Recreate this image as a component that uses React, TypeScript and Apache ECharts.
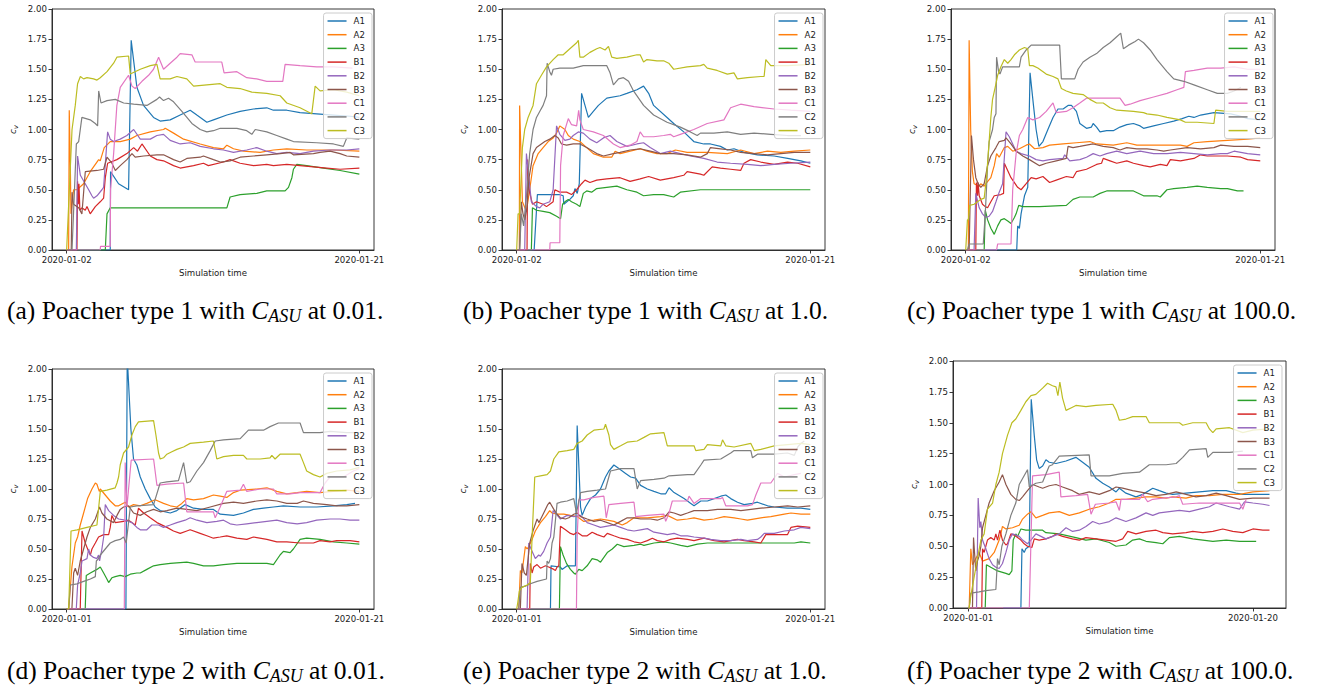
import React, { useEffect, useRef } from "react";
import * as echarts from "echarts";

type Pts = [number, number][];

// ---------- shared metadata ----------
const SERIES_NAMES = ["A1", "A2", "A3", "B1", "B2", "B3", "C1", "C2", "C3"];
const SERIES_COLORS = ["#1f77b4", "#ff7f0e", "#2ca02c", "#d62728", "#9467bd", "#8c564b", "#e377c2", "#7f7f7f", "#bcbd22"];
const X_TICK_VALUES = [[0, 19], [0, 19], [0, 19], [0, 20], [0, 20], [0, 19]];
const X_TICK_LABELS = [
  ["2020-01-02", "2020-01-21"],
  ["2020-01-02", "2020-01-21"],
  ["2020-01-02", "2020-01-21"],
  ["2020-01-01", "2020-01-21"],
  ["2020-01-01", "2020-01-21"],
  ["2020-01-01", "2020-01-20"],
];
const X_RANGES = [[-0.95, 19.95], [-0.95, 19.95], [-0.95, 19.95], [-1, 21], [-1, 21], [-1.01, 21.21]];
const Y_MIN = 0;
const Y_MAX = 2;
const Y_STEP = 0.25;
const X_AXIS_NAME = "Simulation time";
const CAPTION_LETTERS = ["a", "b", "c", "d", "e", "f"];
const CAPTION_TYPES = ["1", "1", "1", "2", "2", "2"];
const CAPTION_CASU = ["0.01", "1.0", "100.0", "0.01", "1.0", "100.0"];

// ---------- panel (a) ----------
const a_A1: Pts = [[0,0],[2.83,0],[2.85,0.65],[3.37,0.55],[4.02,0.5],[4.19,1.74],[4.56,1.35],[4.99,1.2],[5.64,1.1],[6.07,1.07],[6.72,1.08],[7.37,1.12],[8.02,1.16],[8.45,1.12],[9.1,1.06],[9.53,1.08],[10.4,1.12],[11.26,1.15],[12.13,1.17],[12.99,1.18],[13.42,1.16],[14.29,1.16],[15.15,1.14],[16.23,1.13],[17.32,1.12],[18.4,1.11],[19,1.1]];
const a_A2: Pts = [[0,0],[0.13,0],[0.17,1.16],[0.24,0.7],[0.28,0.3],[0.45,0.5],[0.67,0.5],[1.1,0.55],[1.53,0.65],[2.08,0.75],[2.18,0.74],[2.44,0.85],[2.83,0.9],[3.48,0.9],[4.13,0.92],[4.56,0.95],[5.43,0.98],[6.29,1.0],[6.4,1.01],[6.94,0.97],[7.59,0.92],[8.67,0.88],[9.53,0.85],[10.18,0.84],[10.4,0.87],[10.83,0.84],[11.48,0.82],[12.56,0.81],[13.42,0.83],[14.29,0.84],[15.58,0.83],[17.32,0.83],[19,0.82]];
const a_A3: Pts = [[0,0],[2.51,0],[2.62,0.3],[2.83,0.35],[3.5,0.35],[5.0,0.35],[7.0,0.35],[10.4,0.35],[10.61,0.44],[11.26,0.46],[12.34,0.47],[12.99,0.49],[14.18,0.49],[14.4,0.52],[14.62,0.6],[14.72,0.67],[14.94,0.71],[15.58,0.7],[16.67,0.68],[17.75,0.66],[19,0.63]];
const a_B1: Pts = [[0,0],[0.67,0],[0.71,0.57],[0.76,0.38],[0.8,0.55],[0.86,0.33],[0.99,0.35],[1.21,0.33],[1.32,0.36],[1.53,0.3],[1.86,0.36],[2.18,0.4],[2.4,0.43],[2.51,0.6],[2.66,0.72],[3.26,0.75],[3.91,0.8],[4.35,0.85],[4.6,0.82],[4.89,0.88],[5.43,0.78],[5.86,0.75],[6.29,0.74],[6.94,0.7],[7.37,0.68],[8.24,0.7],[8.88,0.72],[9.2,0.7],[10.18,0.73],[10.61,0.75],[11.26,0.72],[12.13,0.7],[12.99,0.71],[13.42,0.7],[14.29,0.71],[15.15,0.7],[16.02,0.69],[16.88,0.68],[17.75,0.67],[19,0.68]];
const a_B2: Pts = [[0,0],[0.63,0],[0.71,0.78],[0.89,0.62],[1.43,0.5],[1.64,0.45],[1.75,0.43],[1.97,0.45],[2.29,0.5],[2.4,0.52],[2.66,0.98],[2.83,0.92],[3.05,0.9],[3.48,0.92],[3.91,0.95],[4.35,1.0],[4.78,0.92],[5.43,0.92],[5.86,0.95],[6.29,0.96],[6.72,0.91],[7.37,0.88],[8.02,0.89],[8.67,0.86],[9.53,0.84],[10.18,0.83],[10.83,0.81],[11.69,0.83],[12.34,0.85],[12.99,0.82],[13.64,0.8],[14.29,0.81],[15.15,0.8],[16.02,0.82],[17.1,0.83],[18.18,0.83],[19,0.84]];
const a_B3: Pts = [[0,0],[0.3,0],[0.35,0.48],[0.45,0.38],[0.78,0.35],[0.99,0.3],[1.21,0.65],[1.97,0.66],[2.4,0.67],[2.62,0.77],[2.94,0.72],[3.16,0.66],[3.48,0.7],[3.91,0.75],[4.24,0.8],[4.45,0.77],[4.99,0.78],[5.86,0.79],[6.29,0.79],[6.94,0.75],[7.37,0.73],[7.8,0.76],[8.67,0.77],[8.88,0.78],[9.53,0.75],[9.97,0.73],[10.61,0.74],[11.26,0.77],[12.13,0.78],[12.99,0.79],[13.86,0.8],[14.51,0.81],[14.72,0.79],[16.02,0.8],[16.45,0.81],[17.1,0.82],[17.75,0.8],[18.18,0.78],[19,0.77]];
const a_C1: Pts = [[0,0],[2.18,0],[2.2,0.03],[2.83,0.03],[2.85,0.5],[3.05,0.8],[3.26,1.2],[3.48,1.35],[4.02,1.45],[4.24,1.36],[4.45,1.34],[4.89,1.4],[5.32,1.45],[5.64,1.5],[5.97,1.6],[6.29,1.5],[6.72,1.55],[7.16,1.6],[7.37,1.63],[8.13,1.62],[8.34,1.56],[10.07,1.56],[10.22,1.47],[11.05,1.48],[11.69,1.43],[12.34,1.42],[12.99,1.4],[14.03,1.4],[14.18,1.54],[15.15,1.53],[16.23,1.52],[17.32,1.52],[18.55,1.51]];
const a_C2: Pts = [[0,0],[0.35,0],[0.63,0.88],[0.78,0.9],[0.99,1.1],[1.53,1.08],[1.86,1.05],[2.01,1.03],[2.08,1.32],[2.23,1.22],[2.62,1.24],[3.16,1.25],[3.7,1.22],[4.35,1.21],[5.21,1.2],[5.86,1.25],[6.03,1.27],[6.29,1.24],[6.61,1.26],[6.94,1.23],[7.48,1.15],[8.13,1.05],[8.67,1.0],[9.1,0.98],[9.53,0.99],[9.97,1.01],[11.05,1.01],[11.69,0.99],[12.02,0.96],[12.24,1.0],[12.99,0.98],[13.64,0.95],[14.29,0.92],[14.72,0.9],[16.23,0.89],[17.32,0.88],[17.96,0.86],[18.18,0.93],[19,0.92]];
const a_C3: Pts = [[0,0],[0.02,0],[0.35,1.0],[0.56,1.2],[0.71,1.38],[0.89,1.44],[1.1,1.42],[1.32,1.43],[1.75,1.42],[1.97,1.41],[2.18,1.43],[2.62,1.48],[3.05,1.55],[3.26,1.6],[4.02,1.61],[4.13,1.46],[4.78,1.5],[5.43,1.53],[5.86,1.54],[6.07,1.42],[6.72,1.42],[7.16,1.44],[7.8,1.42],[8.24,1.36],[9.1,1.37],[9.97,1.38],[10.4,1.35],[11.26,1.34],[12.02,1.31],[12.99,1.3],[13.86,1.28],[14.29,1.22],[15.15,1.18],[15.91,1.13],[16.13,1.36],[16.45,1.32],[17.32,1.33],[18.18,1.31],[19,1.28]];

// ---------- panel (b) ----------
const b_A1: Pts = [[0,0],[1.13,0],[1.34,0.46],[2.79,0.46],[3.01,0.45],[3.05,0.38],[3.44,0.42],[3.66,0.45],[3.77,0.51],[3.92,0.47],[4.05,0.55],[4.2,1.3],[4.53,1.15],[4.64,1.1],[4.96,1.15],[5.29,1.2],[5.83,1.26],[6.69,1.28],[7.13,1.3],[7.78,1.33],[8.21,1.36],[8.54,1.3],[8.86,1.2],[9.73,1.1],[10.16,1.05],[10.81,0.98],[11.46,0.9],[12.11,0.88],[12.54,0.88],[13.19,0.86],[13.63,0.83],[14.06,0.84],[14.71,0.81],[15.58,0.79],[16.66,0.78],[17.53,0.76],[18.39,0.74],[19,0.72]];
const b_A2: Pts = [[0,0],[0.17,0],[0.19,1.2],[0.37,0.4],[0.63,0.32],[0.84,0.5],[1.06,0.7],[1.39,0.8],[1.71,0.85],[2.04,0.9],[2.36,0.93],[2.58,0.97],[2.79,1.03],[3.12,1.0],[3.34,0.95],[3.66,0.92],[4.09,0.9],[4.53,0.85],[4.96,0.8],[5.61,0.77],[6.15,0.77],[6.37,0.82],[6.69,0.8],[7.34,0.82],[7.99,0.84],[8.43,0.82],[9.08,0.8],[9.73,0.8],[10.27,0.83],[11.03,0.81],[12.33,0.81],[13.63,0.8],[14.49,0.83],[15.36,0.8],[16.23,0.82],[17.09,0.81],[17.96,0.82],[19,0.83]];
const b_A3: Pts = [[0,0],[0.95,0],[1.02,0.35],[1.28,0.33],[1.71,0.32],[2.14,0.31],[2.58,0.28],[2.84,0.26],[2.97,0.38],[3.12,0.4],[3.34,0.42],[3.55,0.4],[3.88,0.38],[4.09,0.36],[4.31,0.47],[4.53,0.49],[4.85,0.48],[5.18,0.51],[5.83,0.52],[6.48,0.53],[7.13,0.5],[7.78,0.48],[8.21,0.45],[8.86,0.46],[9.51,0.46],[10.16,0.44],[10.59,0.48],[11.89,0.5],[14.49,0.5],[19,0.5]];
const b_B1: Pts = [[0,0],[0.67,0],[0.71,0.75],[0.8,0.5],[1.02,0.38],[1.28,0.4],[1.71,0.38],[1.93,0.36],[2.14,0.38],[2.36,0.4],[2.4,0.45],[2.47,0.5],[2.79,0.48],[3.23,0.48],[3.55,0.46],[3.88,0.5],[4.2,0.55],[4.42,0.58],[4.74,0.56],[5.18,0.58],[5.83,0.59],[6.69,0.6],[7.34,0.57],[7.99,0.59],[8.54,0.61],[9.29,0.58],[10.16,0.6],[10.81,0.62],[11.03,0.65],[11.89,0.63],[12.11,0.62],[12.65,0.69],[13.19,0.68],[13.84,0.67],[14.49,0.66],[14.71,0.72],[15.14,0.75],[15.79,0.73],[16.66,0.71],[17.53,0.73],[18.18,0.72],[19,0.69]];
const b_B2: Pts = [[0,0],[0.52,0],[0.63,0.8],[0.95,0.4],[1.28,0.36],[1.49,0.35],[1.71,0.38],[2.14,0.4],[2.36,0.5],[2.58,1.03],[2.79,0.96],[3.12,0.91],[3.44,0.92],[3.66,0.95],[3.99,0.98],[4.31,0.97],[4.74,0.92],[5.18,0.89],[5.61,0.93],[6.04,0.95],[6.48,0.9],[7.13,0.86],[7.78,0.88],[8.21,0.89],[8.64,0.85],[9.29,0.8],[9.94,0.82],[10.59,0.8],[11.24,0.78],[12.11,0.76],[12.97,0.73],[13.84,0.72],[14.93,0.71],[15.79,0.7],[16.66,0.71],[17.74,0.72],[19,0.73]];
const b_B3: Pts = [[0,0],[0.19,0],[0.3,0.4],[0.41,0.3],[0.52,0.25],[0.67,0.35],[0.8,0.6],[1.06,0.8],[1.28,0.85],[1.82,0.9],[2.14,0.92],[2.47,0.95],[2.69,0.93],[2.9,0.88],[3.23,0.87],[3.66,0.88],[4.09,0.88],[4.53,0.85],[5.18,0.8],[5.61,0.78],[6.26,0.8],[6.69,0.81],[7.34,0.83],[7.99,0.84],[8.64,0.82],[9.29,0.8],[10.16,0.8],[11.03,0.79],[11.89,0.77],[12.33,0.8],[12.54,0.85],[13.19,0.84],[13.84,0.83],[14.49,0.81],[15.36,0.8],[16.23,0.79],[17.09,0.8],[17.96,0.81],[19,0.81]];
const b_C1: Pts = [[0,0],[2.14,0],[2.16,0.06],[2.79,0.06],[2.84,0.7],[3.01,0.95],[3.34,1.09],[3.55,1.04],[3.88,1.03],[4.01,1.16],[4.09,1.08],[4.31,1.0],[4.96,0.98],[5.61,0.95],[6.26,0.88],[6.69,0.85],[7.34,0.87],[7.78,0.9],[7.99,0.98],[8.21,0.94],[8.86,0.94],[9.51,0.95],[9.94,0.96],[10.16,0.94],[10.59,0.96],[11.46,1.0],[12.33,1.05],[13.41,1.08],[13.84,1.18],[14.49,1.21],[15.36,1.19],[16.66,1.17],[17.74,1.16],[19,1.15]];
const b_C2: Pts = [[0,0],[0.19,0],[0.3,0.3],[0.45,0.2],[0.67,0.5],[0.84,0.8],[1.06,1.0],[1.28,1.1],[1.49,1.15],[1.71,1.2],[1.93,1.28],[1.97,1.55],[2.14,1.48],[2.25,1.45],[2.36,1.5],[2.79,1.51],[3.66,1.51],[4.31,1.53],[5.83,1.53],[6.04,1.47],[6.26,1.37],[6.59,1.42],[6.91,1.43],[7.24,1.4],[7.56,1.32],[8.21,1.2],[8.86,1.12],[9.73,1.06],[10.59,1.02],[11.24,0.98],[11.68,0.95],[11.89,0.97],[12.76,0.97],[13.63,0.98],[14.49,0.96],[15.36,0.97],[16.44,0.96],[17.53,0.95],[18.39,0.95]];
const b_C3: Pts = [[0,0],[0.09,0.3],[0.19,0.3],[0.37,0.85],[0.52,1.0],[0.74,1.1],[1.06,1.2],[1.28,1.38],[1.6,1.45],[1.93,1.52],[2.36,1.58],[2.69,1.62],[3.01,1.62],[3.44,1.67],[3.88,1.72],[3.99,1.74],[4.09,1.6],[4.31,1.6],[4.74,1.64],[5.18,1.67],[5.39,1.68],[5.72,1.66],[5.94,1.69],[6.15,1.6],[6.48,1.59],[7.13,1.6],[7.78,1.62],[7.99,1.62],[8.21,1.56],[8.43,1.58],[9.08,1.57],[9.51,1.57],[9.84,1.55],[10.16,1.5],[11.03,1.52],[11.89,1.53],[12.11,1.54],[12.33,1.51],[12.97,1.49],[13.63,1.46],[14.06,1.47],[14.28,1.42],[14.93,1.43],[15.79,1.44],[16.01,1.44],[16.12,1.58],[16.44,1.53],[17.53,1.53],[19,1.54]];

// ---------- panel (c) ----------
const c_A1: Pts = [[0,0],[3.29,0],[3.35,0.2],[3.46,0.18],[3.57,0.3],[3.79,0.45],[4.0,0.52],[4.15,1.47],[4.37,1.2],[4.54,1.0],[4.72,0.86],[4.98,0.9],[5.3,1.0],[5.63,1.1],[5.95,1.17],[6.28,1.17],[6.6,1.2],[6.82,1.2],[7.14,1.15],[7.36,1.05],[7.79,1.01],[8.11,1.02],[8.22,1.05],[8.44,1.02],[8.66,0.98],[9.09,0.99],[9.52,0.99],[9.95,1.02],[10.39,1.04],[10.82,1.05],[11.25,1.03],[11.47,1.01],[12.12,1.03],[12.77,1.05],[13.42,1.07],[13.96,1.09],[14.39,1.11],[14.72,1.1],[15.15,1.12],[16.01,1.14],[17.1,1.13],[17.75,1.11],[18.18,1.09],[19,1.08]];
const c_A2: Pts = [[0,0],[0.17,0],[0.22,1.74],[0.32,1.0],[0.43,0.65],[0.54,0.55],[0.87,0.53],[0.97,0.55],[1.19,0.53],[1.3,0.55],[1.62,0.6],[1.84,0.7],[1.99,0.8],[2.16,0.77],[2.49,0.85],[2.71,0.86],[3.03,0.82],[3.46,0.84],[3.9,0.87],[4.11,0.88],[4.44,0.84],[4.98,0.85],[5.41,0.87],[6.28,0.88],[7.14,0.89],[8.01,0.9],[8.44,0.88],[9.52,0.87],[10.39,0.89],[11.04,0.87],[12.77,0.87],[13.85,0.87],[14.28,0.86],[14.72,0.89],[15.58,0.9],[16.88,0.91],[18.18,0.92],[19,0.93]];
const c_A3: Pts = [[0,0],[1.19,0],[1.26,0.33],[1.41,0.25],[1.62,0.18],[1.84,0.13],[2.06,0.2],[2.27,0.25],[2.49,0.26],[2.71,0.24],[2.92,0.22],[3.14,0.27],[3.25,0.3],[3.42,0.37],[3.68,0.36],[4.76,0.36],[6.49,0.37],[6.92,0.42],[7.36,0.44],[8.22,0.44],[8.66,0.47],[9.09,0.49],[10.82,0.49],[11.47,0.45],[12.34,0.45],[12.55,0.44],[12.98,0.5],[13.42,0.51],[14.28,0.52],[14.93,0.53],[15.58,0.52],[16.45,0.51],[16.88,0.51],[17.53,0.49],[17.92,0.49]];
const c_B1: Pts = [[0,0],[0.65,0],[0.69,0.56],[0.76,0.45],[0.8,0.56],[0.87,0.45],[1.08,0.38],[1.26,0.36],[1.41,0.35],[1.62,0.4],[1.84,0.45],[2.27,0.46],[2.44,0.47],[2.49,0.72],[2.92,0.6],[3.35,0.52],[3.57,0.5],[3.9,0.55],[4.22,0.6],[4.54,0.59],[4.98,0.61],[5.41,0.56],[5.84,0.58],[6.49,0.61],[6.92,0.6],[7.14,0.65],[7.79,0.67],[8.44,0.71],[8.76,0.72],[8.87,0.76],[9.31,0.74],[9.74,0.72],[10.39,0.74],[10.82,0.72],[11.47,0.7],[11.9,0.69],[12.55,0.71],[12.98,0.7],[13.2,0.75],[13.85,0.74],[14.72,0.76],[15.15,0.79],[15.58,0.78],[16.88,0.78],[17.75,0.77],[18.18,0.75],[19,0.74]];
const c_B2: Pts = [[0,0],[0.54,0],[0.65,0.47],[0.87,0.35],[1.08,0.3],[1.3,0.27],[1.51,0.28],[1.73,0.32],[1.95,0.4],[2.16,0.48],[2.38,0.55],[2.6,0.98],[2.81,0.94],[3.03,0.88],[3.25,0.82],[3.57,0.8],[4.11,0.78],[4.54,0.75],[4.98,0.74],[5.41,0.75],[6.28,0.76],[6.38,0.79],[6.71,0.74],[7.36,0.75],[7.79,0.77],[8.22,0.8],[8.66,0.78],[9.09,0.8],[9.74,0.82],[10.39,0.8],[11.25,0.82],[12.12,0.8],[12.98,0.8],[13.85,0.81],[14.72,0.8],[15.58,0.79],[16.45,0.8],[16.88,0.8],[17.31,0.82],[18.18,0.8],[19,0.79]];
const c_B3: Pts = [[0,0],[0.22,0],[0.37,0.95],[0.5,0.75],[0.65,0.6],[0.8,0.55],[0.97,0.52],[1.19,0.55],[1.41,0.7],[1.62,0.78],[1.95,0.85],[2.16,0.9],[2.49,0.91],[2.6,0.93],[2.92,0.88],[3.25,0.82],[3.68,0.78],[4.11,0.75],[4.76,0.7],[5.19,0.72],[5.84,0.74],[6.49,0.76],[6.6,0.86],[6.92,0.85],[7.36,0.86],[8.22,0.88],[8.87,0.86],[9.52,0.85],[9.95,0.83],[10.39,0.85],[11.04,0.84],[11.69,0.84],[12.34,0.83],[12.77,0.82],[13.2,0.83],[14.28,0.85],[15.15,0.84],[16.01,0.85],[16.45,0.87],[17.31,0.86],[18.18,0.86],[19,0.85]];
const c_C1: Pts = [[0,0],[1.99,0],[2.06,0.05],[2.92,0.05],[3.03,0.5],[3.25,0.8],[3.46,0.95],[3.68,1.0],[4.0,1.1],[4.33,1.08],[4.76,1.1],[5.19,1.15],[5.63,1.22],[5.84,1.14],[6.49,1.15],[6.92,1.18],[7.36,1.22],[7.79,1.26],[9.95,1.26],[10.28,1.2],[10.6,1.21],[11.25,1.24],[12.12,1.27],[12.98,1.3],[13.63,1.33],[14.07,1.35],[14.17,1.48],[14.72,1.49],[15.58,1.51],[16.45,1.51],[17.31,1.52],[18.18,1.5],[19,1.5]];
const c_C2: Pts = [[0,0],[0.11,0],[0.22,0.05],[1.13,0.05],[1.26,0.3],[1.41,0.7],[1.51,0.9],[1.73,1.0],[1.84,1.1],[1.95,1.13],[1.99,1.6],[2.12,1.48],[2.21,1.46],[2.38,1.52],[3.46,1.52],[3.57,1.6],[3.9,1.66],[4.22,1.7],[6.06,1.7],[6.17,1.42],[7.03,1.42],[7.25,1.5],[7.57,1.56],[8.01,1.6],[8.44,1.63],[8.87,1.68],[9.31,1.72],[9.74,1.77],[10.0,1.8],[10.17,1.67],[10.5,1.7],[10.93,1.73],[11.14,1.75],[11.47,1.72],[11.9,1.66],[12.34,1.58],[12.98,1.48],[13.42,1.42],[14.07,1.4],[14.72,1.37],[15.58,1.33],[16.23,1.3],[16.88,1.3],[17.31,1.32],[17.75,1.35]];
const c_C3: Pts = [[0,0],[0.11,0.25],[0.17,0.25],[0.26,0.37],[0.54,0.38],[0.76,0.4],[0.97,0.42],[1.19,0.43],[1.34,0.6],[1.51,0.9],[1.62,1.1],[1.73,1.25],[1.9,1.35],[2.06,1.45],[2.27,1.52],[2.49,1.58],[2.71,1.55],[2.92,1.58],[3.14,1.62],[3.46,1.66],[3.79,1.68],[4.0,1.67],[4.11,1.53],[4.33,1.53],[4.65,1.51],[5.19,1.46],[5.63,1.44],[5.95,1.42],[6.17,1.34],[6.49,1.32],[6.92,1.3],[7.57,1.29],[8.01,1.25],[8.44,1.22],[8.87,1.22],[9.31,1.18],[9.74,1.16],[10.82,1.15],[11.47,1.14],[11.69,1.13],[12.34,1.12],[12.98,1.1],[13.85,1.08],[14.17,1.06],[14.93,1.06],[16.01,1.05],[16.12,1.16],[16.88,1.15],[18.18,1.15],[19,1.15]];

// ---------- panel (d) ----------
const d_A1: Pts = [[0,0],[4.05,0],[4.14,2.1],[4.39,1.5],[4.57,1.25],[4.8,1.2],[5.03,1.1],[5.37,1.0],[5.71,0.92],[6.05,0.85],[6.39,0.82],[7.08,0.8],[7.53,0.82],[8.1,0.87],[8.67,0.84],[9.35,0.83],[10.03,0.83],[10.49,0.79],[11.4,0.78],[12.08,0.8],[12.76,0.83],[13.45,0.84],[14.13,0.85],[14.81,0.86],[15.95,0.85],[17.09,0.85],[18.23,0.86],[19.14,0.87],[19.7,0.88]];
const d_A2: Pts = [[0,0],[0.14,0],[0.36,0.35],[0.59,0.55],[0.75,0.6],[0.93,0.7],[1.16,0.8],[1.43,0.92],[1.73,1.0],[1.96,1.05],[2.07,1.04],[2.23,0.98],[2.3,1.0],[2.64,0.95],[2.98,0.9],[3.32,0.86],[3.55,0.86],[4.0,0.89],[4.23,0.85],[4.57,0.87],[5.03,0.86],[5.48,0.88],[6.05,0.91],[6.62,0.88],[7.08,0.86],[7.53,0.85],[7.87,0.88],[8.21,0.92],[8.67,0.91],[9.35,0.92],[10.03,0.95],[10.49,0.94],[10.94,0.93],[11.4,0.97],[11.86,0.99],[12.99,1.0],[13.68,1.01],[14.36,0.98],[15.04,0.96],[15.75,0.97],[16.4,0.98],[17.31,0.97],[18.23,0.98],[19.14,0.99],[20,0.98]];
const d_A3: Pts = [[0,0],[1.27,0],[1.34,0.28],[1.62,0.3],[2.07,0.33],[2.3,0.35],[2.53,0.3],[2.75,0.25],[2.87,0.22],[3.09,0.26],[3.32,0.27],[3.66,0.28],[4.0,0.27],[4.35,0.29],[4.8,0.3],[5.03,0.3],[5.48,0.33],[5.94,0.36],[6.39,0.37],[7.08,0.38],[8.21,0.39],[8.67,0.38],[9.35,0.36],[10.03,0.36],[10.72,0.37],[11.63,0.38],[12.76,0.38],[13.68,0.38],[14.13,0.37],[14.58,0.45],[14.81,0.48],[15.27,0.47],[15.49,0.5],[15.95,0.58],[16.4,0.59],[17.31,0.58],[18.23,0.56],[19.14,0.55],[20,0.54]];
const d_B1: Pts = [[0,0],[0.93,0],[1.05,0.65],[1.27,0.55],[1.5,0.48],[1.62,0.45],[1.73,0.5],[1.96,0.55],[2.18,0.6],[2.53,0.62],[2.87,0.62],[2.98,0.68],[3.09,0.78],[3.32,0.72],[3.89,0.73],[4.23,0.74],[4.69,0.7],[4.91,0.84],[5.26,0.8],[5.71,0.76],[6.17,0.72],[6.85,0.68],[7.3,0.65],[7.76,0.63],[8.21,0.65],[8.44,0.66],[9.12,0.63],[9.58,0.61],[10.03,0.59],[10.49,0.6],[10.94,0.61],[11.63,0.59],[12.31,0.58],[12.76,0.6],[13.68,0.58],[14.36,0.56],[15.04,0.56],[15.95,0.55],[16.86,0.55],[17.31,0.57],[18.0,0.56],[18.45,0.57],[19.36,0.57],[20,0.56]];
const d_B2: Pts = [[0,0],[0.66,0],[0.75,0.2],[0.93,0.3],[1.05,0.4],[1.39,0.42],[1.5,0.5],[1.62,0.45],[1.84,0.43],[2.07,0.42],[2.18,0.45],[2.25,0.4],[2.41,0.5],[2.53,0.6],[2.64,0.87],[2.87,0.82],[3.21,0.78],[3.55,0.75],[4.0,0.74],[4.46,0.72],[4.8,0.68],[5.03,0.66],[5.48,0.66],[5.82,0.7],[6.28,0.7],[6.62,0.68],[7.08,0.7],[7.53,0.72],[8.1,0.74],[8.44,0.76],[8.9,0.74],[9.58,0.72],[10.26,0.73],[10.72,0.74],[11.17,0.71],[11.63,0.7],[12.31,0.71],[12.99,0.72],[13.68,0.73],[14.36,0.74],[15.04,0.72],[15.75,0.71],[16.4,0.72],[17.09,0.74],[18.0,0.75],[18.68,0.75],[19.36,0.74],[20,0.74]];
const d_B3: Pts = [[0,0],[0.36,0],[0.48,0.3],[0.59,0.34],[0.75,0.28],[0.93,0.4],[1.16,0.5],[1.39,0.6],[1.62,0.68],[1.96,0.75],[2.25,0.85],[2.41,0.8],[2.75,0.75],[3.21,0.72],[3.44,0.78],[3.66,0.83],[3.89,0.85],[4.23,0.86],[4.57,0.8],[5.03,0.78],[5.48,0.81],[5.94,0.83],[6.39,0.81],[6.85,0.82],[7.53,0.84],[8.21,0.83],[8.9,0.82],[9.81,0.85],[10.72,0.88],[11.4,0.89],[12.08,0.88],[12.99,0.9],[13.68,0.91],[14.36,0.9],[15.04,0.88],[15.75,0.88],[16.18,0.9],[16.86,0.88],[17.77,0.87],[18.45,0.86],[19.14,0.86],[20,0.87]];
const d_C1: Pts = [[0,0],[3.94,0],[4.0,1.22],[4.12,0.85],[4.41,1.24],[5.94,1.25],[6.17,1.03],[6.85,1.04],[7.99,1.05],[8.21,0.81],[8.9,0.81],[10.03,0.81],[10.15,0.76],[10.49,0.85],[10.94,0.98],[11.86,0.99],[12.08,1.04],[12.31,0.98],[13.22,1.0],[14.13,1.0],[14.36,0.96],[15.27,0.96],[15.95,0.97],[17.31,0.97],[17.66,1.05],[18.0,1.1],[18.91,1.1],[19.59,1.15],[20,1.17]];
const d_C2: Pts = [[0,0],[0.14,0],[0.25,0.2],[0.71,0.21],[1.16,0.23],[1.62,0.25],[1.96,0.27],[2.03,0.4],[2.18,0.42],[2.3,0.45],[2.64,0.5],[2.98,0.55],[3.32,0.57],[3.66,0.58],[3.89,0.6],[4.07,0.55],[4.35,0.85],[4.8,0.86],[5.94,0.87],[6.39,1.05],[6.85,1.06],[7.64,1.07],[7.99,1.22],[8.21,1.05],[8.44,1.06],[8.9,1.15],[9.35,1.22],[9.81,1.32],[10.15,1.4],[10.72,1.41],[11.86,1.42],[12.42,1.49],[13.45,1.49],[13.9,1.52],[14.47,1.55],[15.95,1.55],[16.18,1.47],[17.31,1.47],[18.0,1.48],[19.14,1.47],[20,1.47]];
const d_C3: Pts = [[0,0],[0.14,0],[0.3,0.65],[0.71,0.66],[1.39,0.68],[2.07,0.7],[2.3,0.98],[2.75,0.99],[3.32,1.01],[3.44,1.05],[3.55,1.1],[3.66,1.2],[3.89,1.3],[4.23,1.35],[4.46,1.45],[4.69,1.52],[4.91,1.56],[5.94,1.57],[6.1,1.45],[6.28,1.3],[6.39,1.25],[6.62,1.26],[6.85,1.29],[7.19,1.31],[7.53,1.33],[7.99,1.35],[8.44,1.38],[9.35,1.39],[10.03,1.4],[10.26,1.25],[10.72,1.27],[11.4,1.28],[12.08,1.28],[12.31,1.25],[13.22,1.25],[13.9,1.26],[14.02,1.28],[14.24,1.25],[14.58,1.29],[15.95,1.29],[16.18,1.22],[16.4,1.15],[16.86,1.12],[17.31,1.1],[17.77,1.13],[18.45,1.15],[19.36,1.16],[20,1.18]];

// ---------- panel (e) ----------
const e_A1: Pts = [[0,0],[2.3,0],[2.34,0.36],[2.98,0.35],[3.09,0.33],[3.44,0.36],[4.0,0.36],[4.12,1.53],[4.35,0.85],[4.46,0.78],[4.69,0.85],[5.03,0.92],[5.37,0.95],[5.71,1.0],[6.05,1.1],[6.28,1.15],[6.62,1.2],[6.96,1.17],[7.42,1.13],[7.76,1.1],[8.1,1.09],[8.44,1.03],[8.9,1.0],[9.35,0.98],[9.81,0.96],[10.15,0.96],[10.38,1.01],[10.72,0.97],[11.4,0.92],[11.86,0.88],[12.08,0.86],[12.54,0.9],[12.99,0.9],[13.45,0.92],[13.9,0.94],[14.24,0.95],[14.58,0.92],[15.04,0.89],[15.49,0.87],[16.06,0.88],[16.4,0.89],[17.09,0.86],[17.54,0.85],[18.45,0.84],[19.36,0.84],[20,0.83]];
const e_A2: Pts = [[0,0],[0.14,0],[0.25,0.32],[0.36,0.3],[0.59,0.52],[0.71,0.5],[0.82,0.52],[1.05,0.58],[1.27,0.65],[1.62,0.72],[1.96,0.77],[2.25,0.82],[2.41,0.8],[2.75,0.79],[3.21,0.79],[3.66,0.78],[4.12,0.77],[4.57,0.73],[5.26,0.74],[5.71,0.75],[6.17,0.74],[6.62,0.73],[7.19,0.7],[7.53,0.72],[7.99,0.76],[8.9,0.76],[9.81,0.77],[10.26,0.78],[10.94,0.74],[11.63,0.75],[12.08,0.76],[12.76,0.74],[13.45,0.75],[14.13,0.77],[14.81,0.76],[15.27,0.75],[15.72,0.74],[16.63,0.76],[17.31,0.77],[18.23,0.79],[18.68,0.8],[19.36,0.79],[20,0.79]];
const e_A3: Pts = [[0,0],[2.91,0],[2.98,0.52],[3.16,0.45],[3.39,0.38],[3.66,0.33],[3.89,0.3],[4.0,0.29],[4.23,0.33],[4.46,0.32],[4.8,0.36],[5.14,0.42],[5.48,0.41],[5.71,0.39],[5.94,0.43],[6.17,0.47],[6.51,0.5],[6.85,0.54],[7.3,0.52],[7.99,0.53],[8.44,0.54],[8.67,0.53],[9.35,0.55],[10.03,0.56],[10.49,0.55],[11.17,0.53],[11.63,0.52],[12.31,0.54],[12.99,0.55],[15.27,0.55],[17.54,0.55],[18.91,0.55],[19.36,0.56],[20,0.55]];
const e_B1: Pts = [[0,0],[0.89,0],[0.93,0.38],[1.05,0.3],[1.16,0.35],[1.39,0.37],[1.62,0.34],[1.96,0.36],[2.18,0.35],[2.53,0.33],[2.64,0.32],[2.75,0.35],[2.87,0.36],[2.98,0.69],[3.32,0.66],[3.66,0.63],[3.89,0.62],[4.12,0.64],[4.46,0.61],[4.8,0.61],[5.14,0.64],[5.48,0.62],[5.94,0.6],[6.17,0.63],[6.62,0.61],[7.08,0.59],[7.53,0.58],[7.99,0.56],[8.44,0.55],[8.9,0.57],[9.24,0.59],[9.58,0.57],[10.03,0.56],[10.49,0.58],[10.94,0.59],[11.63,0.58],[12.08,0.57],[12.76,0.59],[13.45,0.57],[14.13,0.56],[14.58,0.57],[15.04,0.58],[15.49,0.57],[16.18,0.56],[16.63,0.55],[16.97,0.62],[18.45,0.62],[18.68,0.68],[19.14,0.69],[20,0.68]];
const e_B2: Pts = [[0,0],[0.71,0],[0.82,0.55],[0.98,0.5],[1.27,0.42],[1.5,0.45],[1.62,0.44],[1.84,0.48],[2.07,0.55],[2.3,0.6],[2.48,0.82],[2.64,0.8],[2.98,0.75],[3.44,0.78],[3.89,0.77],[4.35,0.78],[4.8,0.72],[5.26,0.7],[5.71,0.68],[6.17,0.69],[6.62,0.7],[7.08,0.68],[7.53,0.66],[7.99,0.65],[8.44,0.66],[8.9,0.67],[9.35,0.64],[9.81,0.63],[10.26,0.62],[10.72,0.63],[11.17,0.61],[11.63,0.61],[12.08,0.6],[12.76,0.59],[13.22,0.58],[13.9,0.57],[14.58,0.57],[15.27,0.58],[15.72,0.57],[16.4,0.58],[16.63,0.6],[16.86,0.63],[17.54,0.63],[18.23,0.65],[18.91,0.66],[19.36,0.68],[20,0.67]];
const e_B3: Pts = [[0,0],[0.25,0],[0.36,0.38],[0.52,0.3],[0.66,0.28],[0.89,0.55],[1.11,0.65],[1.39,0.75],[1.52,0.72],[1.84,0.8],[2.12,0.87],[2.25,0.89],[2.53,0.83],[2.75,0.79],[2.98,0.76],[3.32,0.75],[3.55,0.76],[3.89,0.79],[4.12,0.8],[4.35,0.77],[4.8,0.75],[5.26,0.73],[5.71,0.74],[6.17,0.72],[6.62,0.7],[7.08,0.73],[7.53,0.76],[7.99,0.76],[8.44,0.75],[9.12,0.75],[9.58,0.74],[10.03,0.76],[10.38,0.81],[10.72,0.8],[11.17,0.78],[11.63,0.8],[12.08,0.82],[12.99,0.82],[13.68,0.83],[14.58,0.83],[15.27,0.82],[15.95,0.83],[16.63,0.84],[17.54,0.85],[18.45,0.86],[19.14,0.85],[20,0.86]];
const e_C1: Pts = [[0,0],[4.07,0],[4.12,0.6],[4.23,0.91],[4.57,0.91],[5.26,0.93],[5.94,0.94],[6.1,0.76],[6.28,0.87],[7.08,0.88],[7.99,0.89],[8.1,0.77],[8.9,0.78],[10.03,0.79],[10.15,0.73],[10.38,0.8],[10.6,0.9],[11.63,0.9],[11.74,0.94],[12.08,0.88],[12.54,0.92],[13.9,0.92],[14.02,0.93],[14.24,0.86],[15.72,0.86],[16.06,0.87],[16.29,0.95],[16.63,1.05],[17.31,1.05],[17.77,1.13],[18.23,1.1],[18.91,1.12],[19.36,1.13]];
const e_C2: Pts = [[0,0],[0.14,0],[0.25,0.18],[0.59,0.19],[0.93,0.21],[1.39,0.23],[2.03,0.25],[2.07,0.4],[2.18,0.38],[2.3,0.42],[2.41,0.55],[2.53,0.6],[2.75,0.88],[2.98,0.89],[3.44,0.9],[3.89,0.92],[4.07,0.8],[4.35,0.97],[4.8,0.98],[5.48,0.99],[6.05,1.0],[6.39,1.15],[7.08,1.17],[7.99,1.17],[8.21,1.0],[8.44,1.07],[9.35,1.08],[10.03,1.09],[10.38,1.11],[11.63,1.12],[12.08,1.12],[12.54,1.2],[12.76,1.24],[13.9,1.25],[14.58,1.3],[14.81,1.32],[15.95,1.32],[16.06,1.26],[16.4,1.29],[17.54,1.29],[18.45,1.3],[18.91,1.28],[19.14,1.35],[19.36,1.38],[19.59,1.4]];
const e_C3: Pts = [[0,0],[0.07,0.05],[0.18,0.15],[0.36,0.18],[0.71,0.2],[0.93,0.22],[1.05,0.6],[1.23,1.1],[1.62,1.11],[2.07,1.12],[2.3,1.15],[2.53,1.25],[2.87,1.31],[3.44,1.32],[3.89,1.33],[4.12,1.38],[4.46,1.4],[4.8,1.45],[5.26,1.49],[5.94,1.5],[6.05,1.54],[6.28,1.45],[6.39,1.37],[6.62,1.33],[7.08,1.36],[7.53,1.39],[8.21,1.4],[8.67,1.43],[9.12,1.46],[10.03,1.47],[10.26,1.36],[12.08,1.36],[12.2,1.32],[12.76,1.33],[12.99,1.37],[13.9,1.36],[14.02,1.41],[14.24,1.36],[14.81,1.35],[15.95,1.38],[16.18,1.32],[16.63,1.33],[17.54,1.36],[18.45,1.37],[19.36,1.38],[20,1.37]];

// ---------- panel (f) ----------
const f_A1: Pts = [[2.34,0],[3.52,0],[3.59,0.48],[3.74,0.45],[3.85,0.48],[4.08,0.5],[4.21,1.69],[4.41,1.4],[4.57,1.2],[4.74,1.13],[4.97,1.15],[5.19,1.2],[5.41,1.18],[5.86,1.17],[6.53,1.19],[7.19,1.22],[7.64,1.18],[8.08,1.14],[8.53,1.05],[8.98,1.01],[9.42,0.98],[9.87,0.94],[10.09,0.97],[10.53,0.93],[11.2,0.9],[11.65,0.92],[12.32,0.97],[12.76,0.95],[13.21,0.93],[13.65,0.92],[14.54,0.93],[15.43,0.94],[16.33,0.95],[17.22,0.95],[17.88,0.93],[18.33,0.92],[19.0,0.92],[20.11,0.92]];
const f_A2: Pts = [[0,0],[0.07,0],[0.18,0.48],[0.29,0.35],[0.51,0.4],[0.73,0.45],[0.96,0.38],[1.4,0.4],[1.74,0.45],[2.07,0.55],[2.18,0.6],[2.29,0.66],[2.52,0.64],[2.96,0.65],[3.41,0.67],[3.63,0.72],[3.96,0.76],[4.19,0.78],[4.52,0.73],[4.97,0.75],[5.41,0.77],[6.08,0.78],[6.75,0.75],[7.42,0.77],[8.08,0.8],[8.75,0.82],[9.42,0.85],[9.87,0.88],[10.53,0.88],[11.2,0.89],[11.87,0.9],[12.54,0.9],[13.21,0.89],[13.65,0.9],[14.54,0.89],[15.21,0.91],[16.1,0.91],[16.99,0.92],[18.11,0.92],[19.0,0.94],[20.11,0.95]];
const f_A3: Pts = [[0,0],[1.14,0],[1.22,0.35],[1.51,0.33],[1.96,0.3],[2.52,0.28],[2.74,0.27],[2.92,0.3],[3.01,0.55],[3.18,0.6],[3.3,0.58],[3.52,0.64],[3.85,0.63],[4.97,0.63],[5.19,0.61],[6.08,0.6],[7.19,0.57],[7.86,0.55],[8.53,0.56],[9.42,0.53],[9.87,0.5],[10.53,0.51],[10.98,0.55],[11.43,0.56],[11.87,0.54],[12.54,0.53],[12.99,0.52],[13.43,0.57],[14.1,0.58],[14.99,0.56],[15.66,0.55],[16.33,0.54],[17.22,0.55],[18.11,0.54],[19.22,0.54]];
const f_B1: Pts = [[0,0],[0.91,0],[0.96,0.48],[1.07,0.45],[1.29,0.55],[1.51,0.57],[1.74,0.55],[1.85,0.6],[1.96,0.55],[2.12,0.63],[2.29,0.55],[2.52,0.51],[2.63,0.52],[2.85,0.6],[3.07,0.59],[3.3,0.57],[3.52,0.55],[3.74,0.52],[3.96,0.5],[4.25,0.49],[4.41,0.56],[4.74,0.55],[5.19,0.56],[5.63,0.58],[5.86,0.6],[6.3,0.58],[6.97,0.56],[7.42,0.55],[7.86,0.57],[8.53,0.56],[9.2,0.55],[9.87,0.54],[10.31,0.56],[10.65,0.62],[11.2,0.6],[11.87,0.62],[12.54,0.63],[12.99,0.61],[13.65,0.6],[14.54,0.61],[14.99,0.62],[15.66,0.61],[16.33,0.62],[16.99,0.64],[17.66,0.62],[18.33,0.61],[19.0,0.64],[19.67,0.63],[20.11,0.63]];
const f_B2: Pts = [[0,0],[0.56,0],[0.67,0.89],[0.78,0.65],[0.85,0.7],[0.96,0.55],[1.18,0.48],[1.4,0.4],[1.63,0.35],[1.85,0.33],[2.07,0.32],[2.29,0.36],[2.52,0.45],[2.74,0.55],[2.96,0.6],[3.41,0.58],[3.63,0.55],[3.96,0.52],[4.19,0.55],[4.52,0.6],[4.86,0.58],[5.19,0.56],[5.63,0.58],[6.08,0.6],[6.53,0.65],[6.97,0.62],[7.42,0.63],[7.86,0.66],[8.31,0.7],[8.75,0.68],[9.42,0.7],[9.87,0.73],[10.53,0.7],[11.2,0.73],[11.87,0.77],[12.32,0.75],[12.76,0.77],[13.43,0.78],[14.1,0.79],[14.77,0.78],[15.43,0.8],[16.1,0.82],[16.55,0.85],[17.44,0.82],[18.11,0.8],[18.44,0.86],[19.0,0.85],[19.67,0.84],[20.11,0.83]];
const f_B3: Pts = [[0,0],[0.29,0],[0.36,0.57],[0.51,0.3],[0.62,0.38],[0.73,0.42],[0.85,0.5],[0.96,0.65],[1.18,0.75],[1.4,0.85],[1.74,0.95],[2.07,1.02],[2.29,1.08],[2.52,1.0],[2.85,0.92],[3.18,0.88],[3.41,0.87],[3.63,0.9],[3.96,0.95],[4.3,1.0],[4.74,0.98],[4.97,0.97],[5.41,0.99],[5.86,1.0],[6.3,0.98],[6.97,0.95],[7.42,0.92],[8.08,0.94],[8.75,0.92],[9.42,0.95],[9.87,0.98],[10.31,0.97],[10.98,0.95],[11.87,0.93],[12.54,0.91],[13.21,0.92],[13.88,0.94],[14.54,0.92],[15.21,0.9],[15.88,0.91],[16.55,0.93],[17.22,0.91],[18.11,0.88],[19.0,0.89],[20.11,0.89]];
const f_C1: Pts = [[0,0],[4.08,0],[4.3,1.07],[5.19,1.08],[6.08,1.1],[6.19,0.9],[7.19,0.91],[7.97,0.92],[8.2,0.76],[8.49,0.84],[9.42,0.85],[9.87,0.86],[10.09,0.79],[10.2,0.88],[11.43,0.88],[11.65,0.92],[11.98,0.86],[12.32,0.88],[12.99,0.89],[13.88,0.9],[14.1,0.91],[14.32,0.84],[15.43,0.85],[17.22,0.85],[18.11,0.85],[18.33,0.8],[18.55,0.88]];
const f_C2: Pts = [[0,0],[0.07,0],[0.18,0.12],[0.73,0.13],[1.18,0.14],[1.85,0.15],[1.96,0.4],[2.07,0.35],[2.25,0.5],[2.52,0.6],[2.85,0.75],[3.18,0.85],[3.41,1.0],[3.96,1.12],[4.08,0.98],[4.52,1.01],[4.97,1.02],[5.41,1.15],[5.63,1.16],[6.08,1.23],[8.08,1.24],[8.2,1.07],[9.42,1.07],[10.31,1.09],[11.43,1.1],[12.09,1.16],[13.21,1.16],[13.88,1.17],[14.32,1.22],[14.77,1.28],[15.88,1.29],[15.99,1.22],[16.33,1.26],[17.44,1.26],[18.33,1.27]];
const f_C3: Pts = [[0,0],[0.07,0],[0.18,0.1],[0.4,0.25],[0.62,0.4],[0.85,0.55],[1.07,0.6],[1.29,0.8],[1.63,0.85],[1.85,1.0],[2.07,1.1],[2.29,1.25],[2.63,1.4],[2.92,1.5],[3.18,1.53],[3.52,1.6],[3.85,1.67],[4.19,1.72],[4.52,1.73],[4.97,1.78],[5.3,1.82],[5.63,1.8],[5.86,1.79],[5.99,1.72],[6.12,1.83],[6.3,1.7],[6.53,1.6],[6.86,1.62],[7.19,1.64],[7.86,1.63],[8.53,1.64],[9.65,1.65],[9.87,1.6],[10.09,1.52],[10.53,1.53],[10.98,1.55],[11.87,1.55],[12.09,1.5],[14.1,1.5],[14.32,1.48],[14.99,1.5],[15.88,1.5],[16.1,1.45],[16.33,1.42],[16.55,1.45],[17.44,1.46],[17.88,1.44],[18.33,1.42],[19.0,1.44],[20.11,1.45]];

const PANEL_SERIES: Pts[][] = [
  [a_A1, a_A2, a_A3, a_B1, a_B2, a_B3, a_C1, a_C2, a_C3],
  [b_A1, b_A2, b_A3, b_B1, b_B2, b_B3, b_C1, b_C2, b_C3],
  [c_A1, c_A2, c_A3, c_B1, c_B2, c_B3, c_C1, c_C2, c_C3],
  [d_A1, d_A2, d_A3, d_B1, d_B2, d_B3, d_C1, d_C2, d_C3],
  [e_A1, e_A2, e_A3, e_B1, e_B2, e_B3, e_C1, e_C2, e_C3],
  [f_A1, f_A2, f_A3, f_B1, f_B2, f_B3, f_C1, f_C2, f_C3],
];

// ---------- layout (pixels) ----------
const W = 1321;
const H = 686;
const GRID_BOXES = [
  { left: 52, top: 9, width: 322, height: 241 },
  { left: 502, top: 9, width: 323, height: 241 },
  { left: 951, top: 9, width: 324, height: 241 },
  { left: 52, top: 369, width: 322, height: 240 },
  { left: 502, top: 369, width: 323, height: 240 },
  { left: 953, top: 361, width: 333, height: 247 },
];
const LEGEND_INSET = [2, 2, 2, 2, 2, 4];
const CAPTION_POS = [
  [7, 310], [463, 310], [907, 310],
  [7, 670], [463, 670], [907, 670],
];

const MPL_FONT = "DejaVu Sans";
const TXT = "#1a1a1a";
const CAP_FONT = "Liberation Serif";

function buildOption() {
  const grid: any[] = [];
  const xAxis: any[] = [];
  const yAxis: any[] = [];
  const legend: any[] = [];
  const series: any[] = [];
  const graphic: any[] = [];

  GRID_BOXES.forEach((g, i) => {
    grid.push({ ...g, containLabel: false, show: true, borderColor: "#222", borderWidth: 0.9, backgroundColor: "transparent" });
    const tickVals = X_TICK_VALUES[i];
    const tickLbls = X_TICK_LABELS[i];
    xAxis.push({
      type: "value",
      gridIndex: i,
      min: X_RANGES[i][0],
      max: X_RANGES[i][1],
      name: X_AXIS_NAME,
      nameLocation: "middle",
      nameGap: 18,
      nameTextStyle: { fontFamily: MPL_FONT, fontSize: 8.6, color: TXT },
      axisLine: { show: true, onZero: false, lineStyle: { color: "#222", width: 0.9 } },
      axisTick: { show: true, inside: false, length: 3.5, customValues: tickVals, lineStyle: { color: "#222", width: 0.9 } },
      axisLabel: {
        show: true,
        customValues: tickVals,
        margin: 5,
        fontFamily: MPL_FONT,
        fontSize: 8.6,
        color: TXT,
        formatter: (v: number) => {
          const k = tickVals.indexOf(Math.round(v * 100) / 100);
          return k >= 0 ? tickLbls[k] : "";
        },
      },
      splitLine: { show: false },
    });
    yAxis.push({
      type: "value",
      gridIndex: i,
      min: Y_MIN,
      max: Y_MAX,
      interval: Y_STEP,
      name: "{c|c}{v|v}",
      nameLocation: "middle",
      nameGap: 33,
      nameRotate: 90,
      nameTextStyle: {
        color: TXT,
        rich: {
          c: { fontFamily: MPL_FONT, fontSize: 9, fontStyle: "italic", color: TXT, lineHeight: 12 },
          v: { fontFamily: MPL_FONT, fontSize: 6.5, fontStyle: "italic", color: TXT, lineHeight: 8, verticalAlign: "bottom" },
        },
      },
      axisLine: { show: true, onZero: false, lineStyle: { color: "#222", width: 0.9 } },
      axisTick: { show: true, inside: false, length: 3.5, lineStyle: { color: "#222", width: 0.9 } },
      axisLabel: {
        margin: 5,
        fontFamily: MPL_FONT,
        fontSize: 8.6,
        color: TXT,
        formatter: (v: number) => v.toFixed(2),
      },
      splitLine: { show: false },
    });
    legend.push({
      orient: "vertical",
      right: W - (g.left + g.width) + LEGEND_INSET[i],
      top: g.top + 4,
      data: SERIES_NAMES,
      icon: "rect",
      itemWidth: 19,
      itemHeight: 1.5,
      itemGap: 3.7,
      padding: [3, 7, 3, 4],
      backgroundColor: "rgba(255,255,255,0.8)",
      borderColor: "#cccccc",
      borderWidth: 1,
      borderRadius: 2.5,
      selectedMode: false,
      textStyle: { fontFamily: MPL_FONT, fontSize: 8.6, color: TXT, lineHeight: 10, padding: [0, 0, 0, 2] },
    });
    PANEL_SERIES[i].forEach((pts, j) => {
      series.push({
        type: "line",
        name: SERIES_NAMES[j],
        xAxisIndex: i,
        yAxisIndex: i,
        data: pts,
        symbol: "none",
        showSymbol: false,
        clip: true,
        lineStyle: { color: SERIES_COLORS[j], width: 1.2 },
        itemStyle: { color: SERIES_COLORS[j] },
        emphasis: { disabled: true },
        animation: false,
      });
    });
    const [cx, cy] = CAPTION_POS[i];
    graphic.push({
      type: "text",
      x: cx,
      y: cy,
      style: {
        text: `{n|(${CAPTION_LETTERS[i]}) Poacher type ${CAPTION_TYPES[i]} with }{c|C}{s|ASU}{n| at ${CAPTION_CASU[i]}.}`,
        align: "left",
        verticalAlign: "middle",
        rich: {
          n: { fontFamily: CAP_FONT, fontSize: 25.5, lineHeight: 30, fill: "#000", color: "#000" },
          c: { fontFamily: CAP_FONT, fontSize: 25.5, fontStyle: "italic", lineHeight: 30, fill: "#000", color: "#000" },
          s: { fontFamily: CAP_FONT, fontSize: 18, fontStyle: "italic", lineHeight: 18, verticalAlign: "bottom", fill: "#000", color: "#000" },
        },
      },
    });
  });

  return {
    animation: false,
    backgroundColor: "#ffffff",
    textStyle: { fontFamily: MPL_FONT },
    grid,
    xAxis,
    yAxis,
    legend,
    series,
    graphic,
  };
}

export default function App() {
  const ref = useRef<HTMLDivElement>(null);
  useEffect(() => {
    if (!ref.current) return;
    const chart = echarts.init(ref.current, undefined, { renderer: "svg" });
    chart.setOption(buildOption() as any);
    return () => chart.dispose();
  }, []);
  return <div ref={ref} style={{ position: "absolute", left: 0, top: 0, width: W, height: H }} />;
}
